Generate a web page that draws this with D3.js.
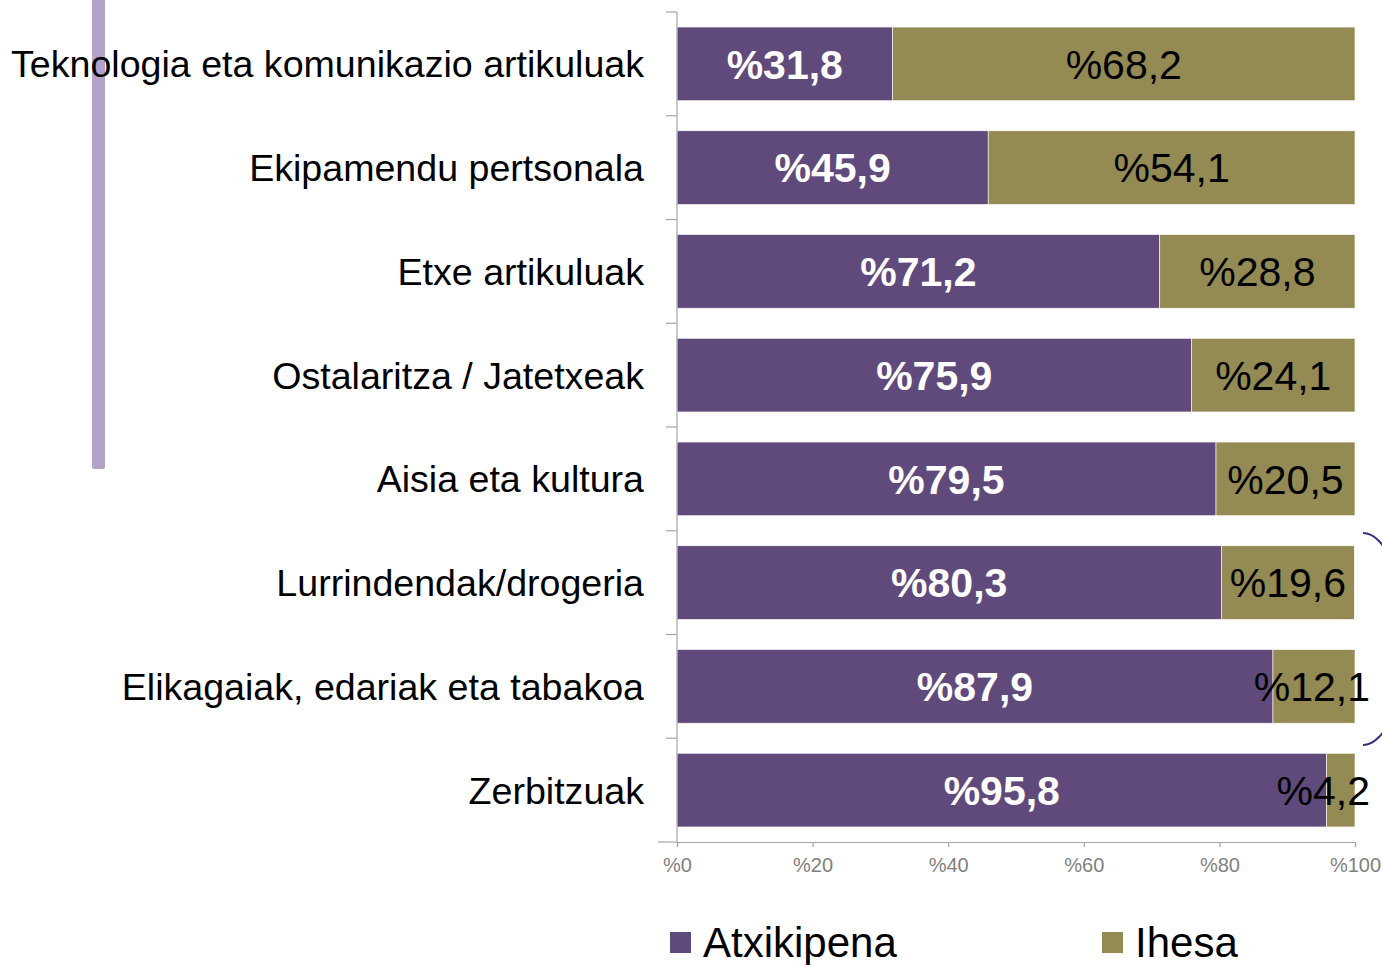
<!DOCTYPE html>
<html>
<head>
<meta charset="utf-8">
<script src="https://cdn.jsdelivr.net/npm/d3@7"></script>
<style>
    body { margin: 0; background: #fff; }
    svg { display: block; font-family: "Liberation Sans", Arial, sans-serif; }
</style>
</head>
<body>
<div id="chart"></div>
<script>
const categories = [
    "Teknologia eta komunikazio artikuluak",
    "Ekipamendu pertsonala",
    "Etxe artikuluak",
    "Ostalaritza / Jatetxeak",
    "Aisia eta kultura",
    "Lurrindendak/drogeria",
    "Elikagaiak, edariak eta tabakoa",
    "Zerbitzuak"
];
const atxikipena = [31.8, 45.9, 71.2, 75.9, 79.5, 80.3, 87.9, 95.8];
const ihesa = [68.2, 54.1, 28.8, 24.1, 20.5, 19.6, 12.1, 4.2];
const xTicks = [0, 20, 40, 60, 80, 100];
const seriesNames = ["Atxikipena", "Ihesa"];

(function () {
    const width = 1382, height = 965;
    const margin = { left: 677, right: 27, top: 12, bottom: 123 };
    const color = d3.scaleOrdinal()
        .domain(seriesNames)
        .range(["#5f4a7b", "#948a54"]);
    const fmt = v => "%" + String(v).replace(".", ",");

    const svg = d3.select("#chart")
        .append("svg")
        .attr("width", width)
        .attr("height", height);

    // decorative lavender stripe on the left
    svg.append("rect")
        .attr("x", 92)
        .attr("y", -4)
        .attr("width", 13)
        .attr("height", 473)
        .attr("rx", 2)
        .attr("fill", "#b3a2c9");

    // decorative bracket on the right edge
    svg.append("path")
        .attr("d", "M1363,533 A42,106 0 0 1 1363,745")
        .attr("fill", "none")
        .attr("stroke", "#3e2c80")
        .attr("stroke-width", 2);

    const x = d3.scaleLinear()
        .domain([0, 100])
        .range([margin.left, width - margin.right]);
    const y = d3.scaleBand()
        .domain(categories)
        .range([margin.top, height - margin.bottom])
        .paddingInner(0.29)
        .paddingOuter(0.145);

    const rows = categories.map((c, i) => ({ cat: c, a: atxikipena[i], b: ihesa[i] }));

    const row = svg.append("g")
        .selectAll("g")
        .data(rows)
        .join("g");

    row.append("rect")
        .attr("x", x(0))
        .attr("y", d => y(d.cat))
        .attr("width", d => x(d.a) - x(0))
        .attr("height", y.bandwidth())
        .attr("fill", color("Atxikipena"))
        .attr("stroke", "#fff")
        .attr("stroke-width", 0.6);
    row.append("rect")
        .attr("x", d => x(d.a))
        .attr("y", d => y(d.cat))
        .attr("width", d => x(d.a + d.b) - x(d.a))
        .attr("height", y.bandwidth())
        .attr("fill", color("Ihesa"))
        .attr("stroke", "#fff")
        .attr("stroke-width", 0.6);

    row.append("text")
        .attr("x", d => (x(0) + x(d.a)) / 2)
        .attr("y", d => y(d.cat) + y.bandwidth() / 2)
        .attr("dy", "0.36em")
        .attr("text-anchor", "middle")
        .attr("font-size", 41)
        .attr("font-weight", 700)
        .attr("fill", "#fff")
        .text(d => fmt(d.a));
    row.append("text")
        .attr("y", d => y(d.cat) + y.bandwidth() / 2)
        .attr("dy", "0.36em")
        .attr("text-anchor", "end")
        .attr("font-size", 41)
        .attr("fill", "#000")
        .text(d => fmt(d.b))
        .each(function (d) {
            // keep the label inside the page: its right end stops at 1370
            const w = this.getComputedTextLength();
            const c = (x(d.a) + x(d.a + d.b)) / 2;
            d3.select(this).attr("x", Math.min(c + w / 2, 1370));
        });

    // category labels
    svg.append("g")
        .selectAll("text")
        .data(categories)
        .join("text")
        .attr("x", 644)
        .attr("y", d => y(d) + y.bandwidth() / 2)
        .attr("dy", "0.36em")
        .attr("text-anchor", "end")
        .attr("font-size", 37.6)
        .attr("fill", "#000")
        .text(d => d);

    // vertical axis with ticks at band boundaries
    const yAxis = svg.append("g").attr("stroke", "#a6a6a6").attr("stroke-width", 1.2);
    yAxis.append("line")
        .attr("x1", x(0)).attr("x2", x(0))
        .attr("y1", margin.top).attr("y2", height - margin.bottom);
    yAxis.selectAll(".tk")
        .data(d3.range(categories.length + 1))
        .join("line")
        .attr("class", "tk")
        .attr("x1", i => i === categories.length ? x(0) - 19 : x(0) - 11)
        .attr("x2", x(0))
        .attr("y1", i => margin.top + i * y.step())
        .attr("y2", i => margin.top + i * y.step());

    // horizontal axis
    svg.append("g")
        .attr("transform", `translate(0,${height - margin.bottom})`)
        .call(d3.axisBottom(x).tickValues(xTicks).tickSize(5).tickFormat(d => "%" + d))
        .call(g => {
            g.select(".domain").attr("stroke", "#a6a6a6").attr("stroke-width", 1.2);
            g.selectAll(".tick line").attr("stroke", "#a6a6a6").attr("stroke-width", 1.2);
            g.selectAll("text")
                .attr("fill", "#7f7f7f")
                .attr("font-size", 20)
                .attr("font-family", "Liberation Sans, Arial, sans-serif")
                .attr("y", 16);
        });

    // legend
    const legend = svg.append("g")
        .selectAll("g")
        .data(seriesNames)
        .join("g")
        .attr("transform", (d, i) => `translate(${i === 0 ? 670 : 1102}, 932)`);
    legend.append("rect")
        .attr("width", 21)
        .attr("height", 21)
        .attr("fill", d => color(d));
    legend.append("text")
        .attr("x", 33)
        .attr("y", 25)
        .attr("font-size", 42)
        .attr("fill", "#000")
        .text(d => d);
})();
</script>
</body>
</html>
